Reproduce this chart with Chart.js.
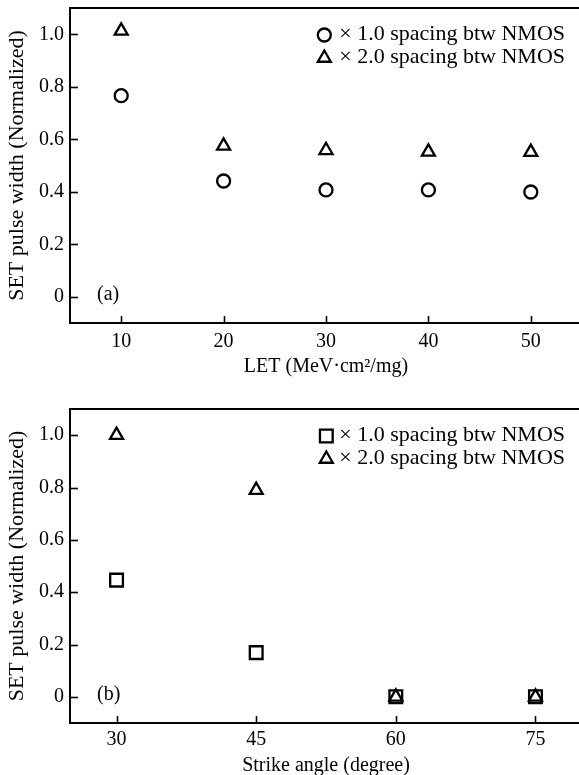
<!DOCTYPE html>
<html><head><meta charset="utf-8">
<script src="https://cdn.jsdelivr.net/npm/chart.js@4.4.1/dist/chart.umd.min.js"></script>
<style>
html,body{margin:0;padding:0;background:#fff;overflow:hidden;width:579px;height:775px;position:relative;}
canvas{position:absolute;left:0;}
#ca{top:0}
#cb{top:390px}
</style></head><body>
<canvas id="ca" width="582" height="390"></canvas>
<canvas id="cb" width="582" height="390"></canvas>
<script>
// ---- data ----
const letValues = [10, 20, 30, 40, 50];
const letSpacing1 = [0.766, 0.441, 0.407, 0.407, 0.399];
const letSpacing2 = [1.013, 0.575, 0.558, 0.552, 0.551];
const angleValues = [30, 45, 60, 75];
const angleSpacing1 = [0.446, 0.169, 0, 0];
const angleSpacing2 = [1.0, 0.79, 0, 0];
const yTickValues = [0, 0.2, 0.4, 0.6, 0.8, 1.0];
const letTickValues = [10, 20, 30, 40, 50];
const angleTickValues = [30, 45, 60, 75];
const seriesLabels = ['\u00d7 1.0 spacing btw NMOS', '\u00d7 2.0 spacing btw NMOS'];
const yTitle = 'SET pulse width (Normalized)';

const FONT_FAMILY = '"Liberation Serif", "Times New Roman", serif';
const FONT = { family: FONT_FAMILY, size: 20 };
const FONT_BIG = { family: FONT_FAMILY, size: 22 };

function pts(xs, ys) { return xs.map((x, i) => ({ x: x, y: ys[i] })); }

const framePlugin = {
  id: 'frame',
  afterDraw(chart, args, opts) {
    const ctx = chart.ctx;
    const a = chart.chartArea;
    const xs = chart.scales.x, ys = chart.scales.y;
    ctx.save();
    ctx.strokeStyle = '#000';
    ctx.lineWidth = 2;
    // top border
    ctx.beginPath();
    ctx.moveTo(a.left - 1, a.top);
    ctx.lineTo(a.right + 5, a.top);
    ctx.stroke();
    // inward ticks
    ctx.lineWidth = 1.6;
    xs.ticks.forEach(t => {
      const px = Math.round(xs.getPixelForValue(t.value)) + 0.5;
      ctx.beginPath(); ctx.moveTo(px, a.bottom); ctx.lineTo(px, a.bottom - 7); ctx.stroke();
    });
    ys.ticks.forEach(t => {
      const py = Math.round(ys.getPixelForValue(t.value)) + 0.5;
      ctx.beginPath(); ctx.moveTo(a.left, py); ctx.lineTo(a.left + 8, py); ctx.stroke();
    });
    // panel label
    ctx.fillStyle = '#000';
    ctx.font = '20px ' + FONT_FAMILY;
    ctx.textAlign = 'left';
    ctx.textBaseline = 'middle';
    ctx.fillText(opts.panel, a.left + 27, a.bottom - 28);
    // legend
    ctx.font = '22px ' + FONT_FAMILY;
    ctx.textAlign = 'right';
    const textRight = 565;
    chart.data.datasets.forEach((ds, i) => {
      const y = a.top + 26 + i * 23;
      ctx.fillStyle = '#000';
      ctx.fillText(ds.label, textRight, y);
      const w = ctx.measureText(ds.label).width;
      const mx = textRight - w - opts.markerGap;
      ctx.strokeStyle = '#000';
      ctx.fillStyle = 'rgba(0,0,0,0)';
      ctx.lineWidth = ds.borderWidth;
      Chart.helpers.drawPoint(ctx, { pointStyle: ds.pointStyle, radius: ds.pointRadius, rotation: 0, borderWidth: ds.borderWidth }, mx, y + 1);
    });
    ctx.restore();
  }
};

function makeChart(id, xVals, s1, s2, style1, r1, xMin, xMax, xTicks, xTitle, panel, topPad, xHeight, tickPad, titlePad, markerGap) {
  return new Chart(document.getElementById(id), {
    type: 'scatter',
    data: {
      datasets: [
        { label: seriesLabels[0], data: pts(xVals, s1), pointStyle: style1, pointRadius: r1, pointHoverRadius: r1,
          borderColor: '#000', backgroundColor: 'rgba(0,0,0,0)', borderWidth: 2.3 },
        { label: seriesLabels[1], data: pts(xVals, s2), pointStyle: 'triangle', pointRadius: 7.5, pointHoverRadius: 7.5,
          borderColor: '#000', backgroundColor: 'rgba(0,0,0,0)', borderWidth: 2.3 }
      ]
    },
    options: {
      responsive: false,
      animation: false,
      devicePixelRatio: 1,
      layout: { autoPadding: false, padding: { top: topPad, left: 0, right: 0, bottom: 0 } },
      plugins: { legend: { display: false }, tooltip: { enabled: false }, frame: { panel: panel, markerGap: markerGap } },
      scales: {
        x: {
          type: 'linear', min: xMin, max: xMax,
          afterBuildTicks: s => { s.ticks = xTicks.map(v => ({ value: v })); },
          afterFit: s => { s.height = xHeight; s.paddingLeft = 0; s.paddingRight = 0; },
          grid: { display: false, drawTicks: false },
          border: { display: true, color: '#000', width: 2 },
          ticks: { color: '#000', font: FONT, padding: tickPad, callback: v => String(v) },
          title: { display: true, text: xTitle, color: '#000', font: FONT, padding: { top: 0, bottom: titlePad } }
        },
        y: {
          type: 'linear', min: -0.1, max: 1.1,
          afterBuildTicks: s => { s.ticks = yTickValues.map(v => ({ value: v })); },
          afterFit: s => { s.width = 70; s.paddingTop = 0; s.paddingBottom = 0; },
          grid: { display: false, drawTicks: false },
          border: { display: true, color: '#000', width: 2 },
          ticks: { color: '#000', font: FONT, padding: 6, callback: v => (v === 0 ? '0' : v.toFixed(1)) },
          title: { display: true, text: yTitle, color: '#000', font: FONT_BIG, padding: { top: 4, bottom: 0 } }
        }
      }
    },
    plugins: [framePlugin]
  });
}

makeChart('ca', letValues, letSpacing1, letSpacing2, 'circle', 6.5, 5, 55, letTickValues,
  'LET (MeV\u00b7cm\u00b2/mg)', '(a)', 8, 67, 7, 11, 15);
makeChart('cb', angleValues, angleSpacing1, angleSpacing2, 'rect', 9, 25, 80, angleTickValues,
  'Strike angle (degree)', '(b)', 19, 57, 5, 2, 13);
</script>
</body></html>
